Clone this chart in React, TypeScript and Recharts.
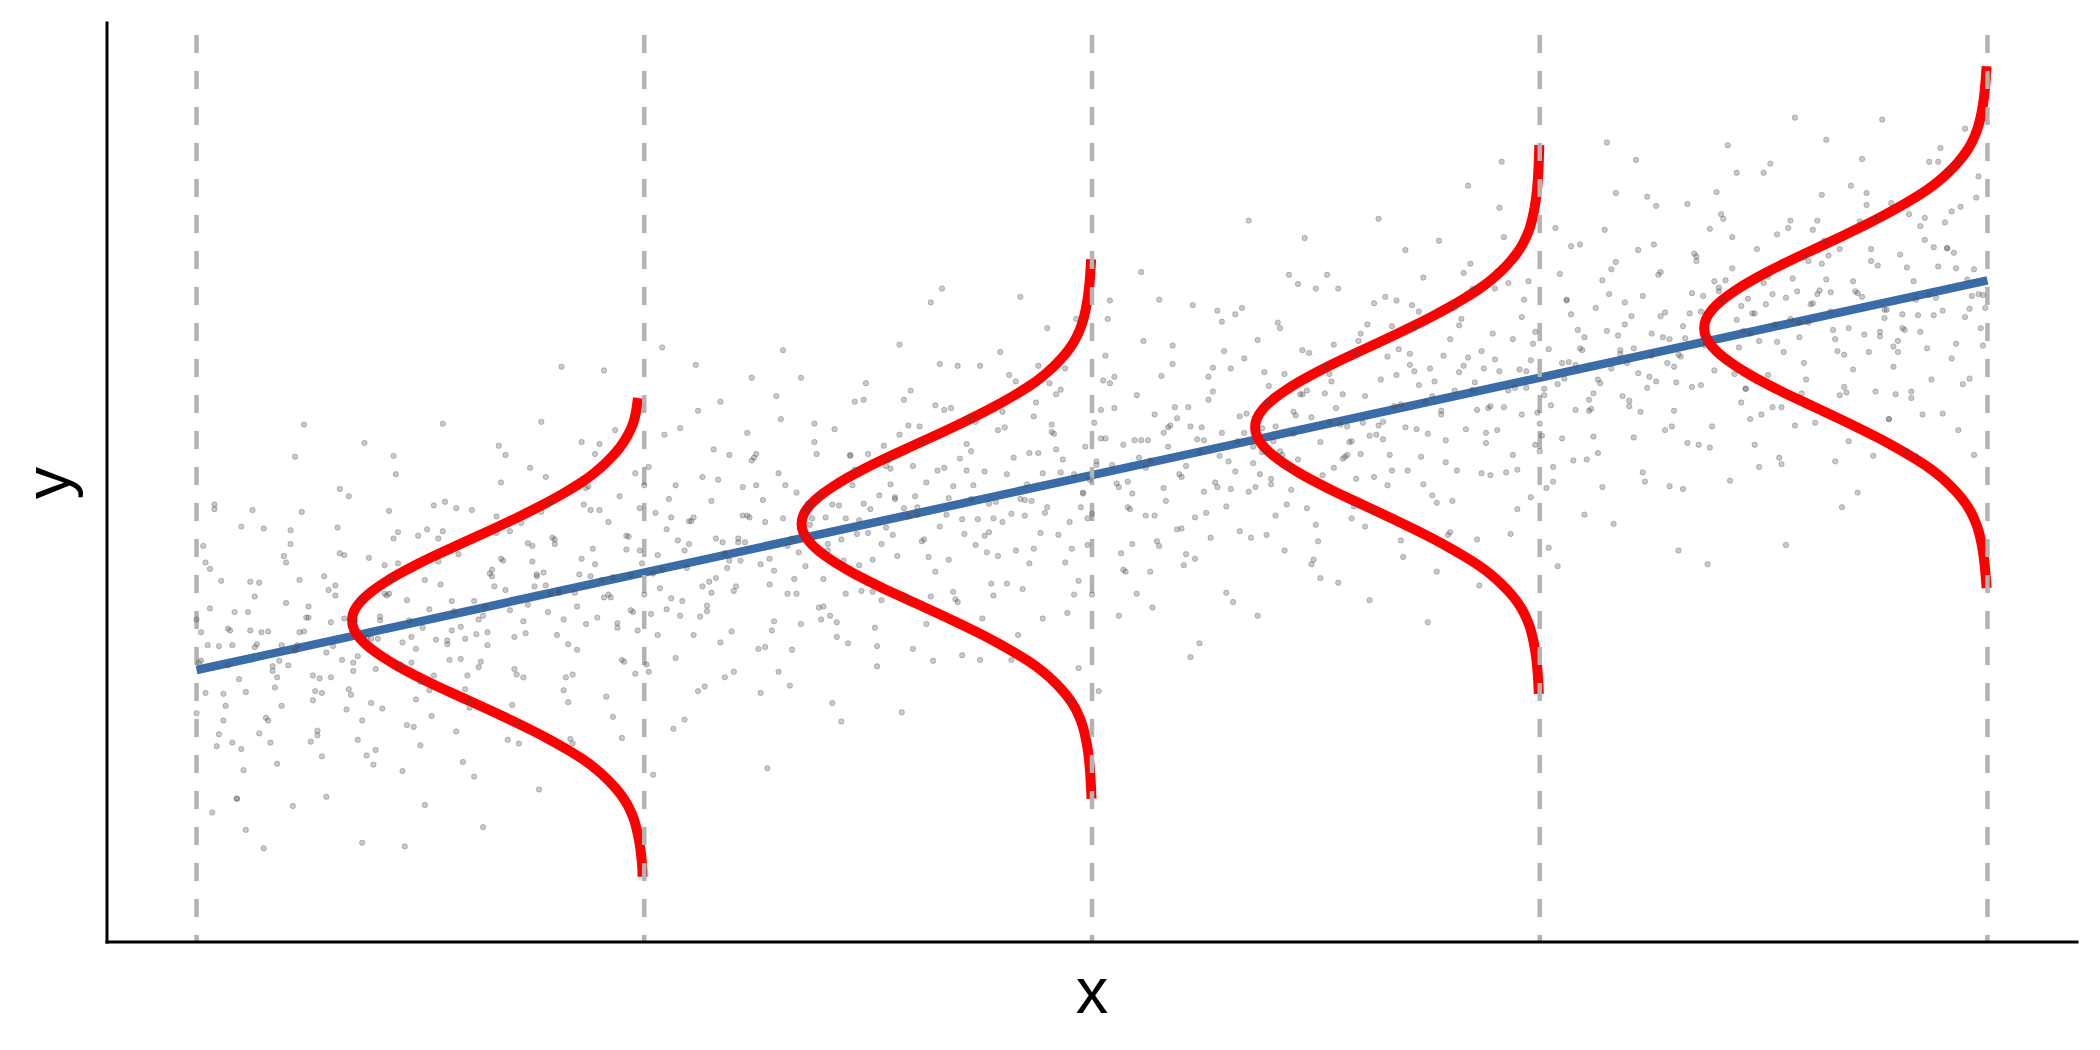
import React from 'react';
import { ComposedChart, Scatter, Line, XAxis, YAxis } from 'recharts';

// axis ranges (no ticks are drawn, the dashed guides sit at x = 0..4)
const xDomain: [number, number] = [-0.2, 4.2];
const yDomain: [number, number] = [0, 10];

const guideXs = [0, 1, 2, 3, 4];
const guideTop = 9.87;

// fitted line, read at both ends
const fitLine = [
  { x: 0, y: 2.96 },
  { x: 4, y: 7.2 },
];

// the point cloud in three sweeps of 0.1-wide bands
const cloudA: [number, number][] = [
  [0.01, 3.06], [0.06, 2.7], [0.03, 3.63], [0.08, 2.17], [0.02, 4.13], [0.09, 1.56], [0.05, 3.22], [0.0, 2.49], [0.07, 3.41], [0.04, 4.71],
  [0.17, 3.0], [0.12, 3.39], [0.19, 2.57], [0.14, 3.91], [0.1, 2.1], [0.15, 4.5], [0.18, 2.88], [0.13, 3.21], [0.16, 2.41], [0.11, 1.22],
  [0.24, 3.38], [0.29, 3.15], [0.2, 3.69], [0.26, 2.63], [0.23, 3.94], [0.27, 2.3], [0.21, 4.48], [0.28, 2.02], [0.25, 3.53], [0.22, 5.28],
  [0.38, 3.31], [0.33, 3.52], [0.35, 3.04], [0.31, 3.88], [0.39, 2.6], [0.32, 4.23], [0.36, 2.2], [0.34, 4.85], [0.3, 2.88], [0.37, 1.08],
  [0.41, 3.54], [0.46, 3.26], [0.43, 3.79], [0.48, 3.04], [0.42, 4.1], [0.49, 2.64], [0.45, 4.46], [0.4, 2.09], [0.47, 3.72], [0.44, 5.29],
  [0.57, 3.39], [0.52, 3.62], [0.59, 3.08], [0.54, 4.14], [0.5, 2.83], [0.55, 4.47], [0.58, 2.29], [0.53, 4.75], [0.56, 3.24], [0.51, 1.49],
  [0.64, 3.55], [0.69, 3.83], [0.6, 3.3], [0.66, 4.05], [0.63, 2.99], [0.67, 4.45], [0.61, 2.63], [0.68, 5.0], [0.65, 3.37], [0.62, 1.8],
  [0.78, 3.88], [0.73, 3.49], [0.75, 4.31], [0.71, 2.97], [0.79, 4.78], [0.72, 2.38], [0.76, 4.0], [0.74, 3.67], [0.7, 4.47], [0.77, 5.66],
  [0.81, 3.81], [0.86, 4.17], [0.83, 3.24], [0.88, 4.7], [0.82, 2.74], [0.89, 5.31], [0.85, 3.65], [0.8, 4.38], [0.87, 3.46], [0.84, 2.16],
  [0.97, 3.99], [0.92, 3.78], [0.99, 4.26], [0.94, 3.42], [0.9, 4.7], [0.95, 3.07], [0.98, 5.1], [0.93, 2.45], [0.96, 4.42], [0.91, 6.22],
  [1.04, 4.05], [1.09, 4.26], [1.0, 3.78], [1.06, 4.62], [1.03, 3.34], [1.07, 4.97], [1.01, 2.94], [1.08, 5.59], [1.05, 3.62], [1.02, 1.82],
  [1.18, 4.23], [1.13, 3.87], [1.15, 4.8], [1.11, 3.34], [1.19, 5.3], [1.12, 2.73], [1.16, 4.39], [1.14, 3.66], [1.1, 4.58], [1.17, 5.88],
  [1.21, 4.39], [1.26, 4.11], [1.23, 4.64], [1.28, 3.89], [1.22, 4.95], [1.29, 3.49], [1.25, 5.31], [1.2, 2.94], [1.27, 4.57], [1.24, 6.14],
  [1.37, 4.54], [1.32, 4.31], [1.39, 4.85], [1.34, 3.79], [1.3, 5.1], [1.35, 3.46], [1.38, 5.64], [1.33, 3.18], [1.36, 4.69], [1.31, 6.44],
  [1.44, 4.38], [1.49, 4.77], [1.4, 3.95], [1.46, 5.29], [1.43, 3.48], [1.47, 5.88], [1.41, 4.26], [1.48, 4.59], [1.45, 3.79], [1.42, 2.6],
  [1.58, 4.72], [1.53, 4.33], [1.55, 5.15], [1.51, 3.81], [1.59, 5.62], [1.52, 3.22], [1.56, 4.84], [1.54, 4.51], [1.5, 5.31], [1.57, 6.5],
  [1.61, 4.73], [1.66, 4.52], [1.63, 5.0], [1.68, 4.16], [1.62, 5.44], [1.69, 3.81], [1.65, 5.84], [1.6, 3.19], [1.67, 5.16], [1.64, 6.96],
  [1.77, 4.77], [1.72, 5.13], [1.79, 4.2], [1.74, 5.66], [1.7, 3.7], [1.75, 6.27], [1.78, 4.61], [1.73, 5.34], [1.76, 4.42], [1.71, 3.12],
  [1.84, 4.82], [1.89, 5.1], [1.8, 4.57], [1.86, 5.32], [1.83, 4.26], [1.87, 5.72], [1.81, 3.9], [1.88, 6.27], [1.85, 4.64], [1.82, 3.07],
  [1.98, 4.88], [1.93, 5.11], [1.95, 4.57], [1.91, 5.63], [1.99, 4.32], [1.92, 5.96], [1.96, 3.78], [1.94, 6.24], [1.9, 4.73], [1.97, 2.98],
  [2.01, 5.23], [2.06, 4.95], [2.03, 5.48], [2.08, 4.73], [2.02, 5.79], [2.09, 4.33], [2.05, 6.15], [2.0, 3.78], [2.07, 5.41], [2.04, 6.98],
  [2.17, 5.39], [2.12, 5.16], [2.19, 5.7], [2.14, 4.64], [2.1, 5.95], [2.15, 4.31], [2.18, 6.49], [2.13, 4.03], [2.16, 5.54], [2.11, 7.29],
  [2.24, 5.33], [2.29, 5.54], [2.2, 5.06], [2.26, 5.9], [2.23, 4.62], [2.27, 6.25], [2.21, 4.22], [2.28, 6.87], [2.25, 4.9], [2.22, 3.1],
  [2.38, 5.33], [2.33, 5.72], [2.35, 4.9], [2.31, 6.24], [2.39, 4.43], [2.32, 6.83], [2.36, 5.21], [2.34, 5.54], [2.3, 4.74], [2.37, 3.55],
  [2.41, 5.61], [2.46, 5.25], [2.43, 6.18], [2.48, 4.72], [2.42, 6.68], [2.49, 4.11], [2.45, 5.77], [2.4, 5.04], [2.47, 5.96], [2.44, 7.26],
  [2.57, 5.61], [2.52, 5.97], [2.59, 5.04], [2.54, 6.5], [2.5, 4.54], [2.55, 7.11], [2.58, 5.45], [2.53, 6.18], [2.56, 5.26], [2.51, 3.96],
  [2.64, 5.62], [2.69, 5.85], [2.6, 5.31], [2.66, 6.37], [2.63, 5.06], [2.67, 6.7], [2.61, 4.52], [2.68, 6.98], [2.65, 5.47], [2.62, 3.72],
  [2.78, 5.78], [2.73, 6.06], [2.75, 5.53], [2.71, 6.28], [2.79, 5.22], [2.72, 6.68], [2.76, 4.86], [2.74, 7.23], [2.7, 5.6], [2.77, 4.03],
  [2.81, 6.0], [2.86, 5.79], [2.83, 6.27], [2.88, 5.43], [2.82, 6.71], [2.89, 5.08], [2.85, 7.11], [2.8, 4.46], [2.87, 6.43], [2.84, 8.23],
  [2.97, 6.21], [2.92, 5.82], [2.99, 6.64], [2.94, 5.3], [2.9, 7.11], [2.95, 4.71], [2.98, 6.33], [2.93, 6.0], [2.96, 6.8], [2.91, 7.99],
  [3.04, 6.07], [3.09, 6.46], [3.0, 5.64], [3.06, 6.98], [3.03, 5.17], [3.07, 7.57], [3.01, 5.95], [3.08, 6.28], [3.05, 5.48], [3.02, 4.29],
  [3.18, 6.4], [3.13, 6.12], [3.15, 6.65], [3.11, 5.9], [3.19, 6.96], [3.12, 5.5], [3.16, 7.32], [3.14, 4.95], [3.1, 6.58], [3.17, 8.15],
  [3.21, 6.46], [3.26, 6.1], [3.23, 7.03], [3.28, 5.57], [3.22, 7.53], [3.29, 4.96], [3.25, 6.62], [3.2, 5.89], [3.27, 6.81], [3.24, 8.11],
  [3.37, 6.49], [3.32, 6.7], [3.39, 6.22], [3.34, 7.06], [3.3, 5.78], [3.35, 7.41], [3.38, 5.38], [3.33, 8.03], [3.36, 6.06], [3.31, 4.26],
  [3.44, 6.77], [3.49, 6.54], [3.4, 7.08], [3.46, 6.02], [3.43, 7.33], [3.47, 5.69], [3.41, 7.87], [3.48, 5.41], [3.45, 6.92], [3.42, 8.67],
  [3.58, 6.74], [3.53, 6.53], [3.55, 7.01], [3.51, 6.17], [3.59, 7.45], [3.52, 5.82], [3.56, 7.85], [3.54, 5.2], [3.5, 7.17], [3.57, 8.97],
  [3.61, 6.95], [3.66, 6.56], [3.63, 7.38], [3.68, 6.04], [3.62, 7.85], [3.69, 5.45], [3.65, 7.07], [3.6, 6.74], [3.67, 7.54], [3.64, 8.73],
  [3.77, 6.79], [3.72, 7.02], [3.79, 6.48], [3.74, 7.54], [3.7, 6.23], [3.75, 7.87], [3.78, 5.69], [3.73, 8.15], [3.76, 6.64], [3.71, 4.89],
  [3.84, 6.99], [3.89, 7.35], [3.8, 6.42], [3.86, 7.88], [3.83, 5.92], [3.87, 8.49], [3.81, 6.83], [3.88, 7.56], [3.85, 6.64], [3.82, 5.34],
  [3.98, 7.05], [3.93, 7.33], [3.95, 6.8], [3.91, 7.55], [3.99, 6.49], [3.92, 7.95], [3.96, 6.13], [3.94, 8.5], [3.9, 6.87], [3.97, 5.3],
];

const cloudB: [number, number][] = [
  [0.025, 3.23], [0.065, 2.57], [0.005, 3.04], [0.085, 3.59], [0.045, 2.13], [0.015, 4.31], [0.095, 2.86], [0.055, 3.93], [0.035, 1.41], [0.075, 3.39],
  [0.175, 2.77], [0.135, 3.24], [0.155, 2.44], [0.115, 3.59], [0.195, 4.2], [0.105, 1.87], [0.145, 3.37], [0.185, 3.06], [0.125, 4.7], [0.165, 2.17],
  [0.245, 3.53], [0.205, 3.01], [0.285, 3.98], [0.265, 2.73], [0.225, 3.23], [0.255, 2.18], [0.235, 4.68], [0.275, 2.87], [0.295, 3.83], [0.215, 1.48],
  [0.325, 3.07], [0.365, 3.73], [0.305, 3.22], [0.385, 4.18], [0.345, 2.69], [0.315, 4.51], [0.395, 1.93], [0.355, 3.5], [0.335, 2.53], [0.375, 5.43],
  [0.475, 3.5], [0.435, 3.96], [0.455, 3.02], [0.415, 2.54], [0.495, 4.42], [0.405, 3.3], [0.445, 5.09], [0.485, 2.34], [0.425, 3.77], [0.465, 1.04],
  [0.545, 3.89], [0.505, 3.42], [0.585, 4.22], [0.565, 3.07], [0.525, 2.46], [0.555, 4.79], [0.535, 3.29], [0.575, 3.6], [0.595, 1.96], [0.515, 4.49],
  [0.625, 3.35], [0.665, 3.87], [0.605, 2.9], [0.685, 4.15], [0.645, 3.65], [0.615, 4.7], [0.695, 2.2], [0.655, 4.01], [0.635, 3.05], [0.675, 5.4],
  [0.775, 4.02], [0.735, 3.36], [0.755, 3.87], [0.715, 2.91], [0.795, 4.4], [0.705, 2.58], [0.745, 5.16], [0.785, 3.59], [0.725, 4.56], [0.765, 1.66],
  [0.845, 3.8], [0.805, 3.34], [0.885, 4.28], [0.865, 4.76], [0.825, 2.88], [0.855, 4.0], [0.835, 2.21], [0.875, 4.96], [0.895, 3.53], [0.815, 6.26],
  [0.925, 3.75], [0.965, 4.41], [0.905, 3.94], [0.985, 3.39], [0.945, 4.85], [0.915, 2.67], [0.995, 4.12], [0.955, 3.05], [0.935, 5.57], [0.975, 3.59],
  [1.075, 4.37], [1.035, 3.85], [1.055, 4.82], [1.015, 3.57], [1.095, 4.07], [1.005, 3.02], [1.045, 5.52], [1.085, 3.71], [1.025, 4.67], [1.065, 2.32],
  [1.145, 3.92], [1.105, 4.58], [1.185, 4.07], [1.165, 5.03], [1.125, 3.54], [1.155, 5.36], [1.135, 2.78], [1.175, 4.35], [1.195, 3.38], [1.115, 6.28],
  [1.225, 4.35], [1.265, 4.81], [1.205, 3.87], [1.285, 3.39], [1.245, 5.27], [1.215, 4.15], [1.295, 5.94], [1.255, 3.19], [1.235, 4.62], [1.275, 1.89],
  [1.375, 4.61], [1.335, 3.95], [1.355, 4.42], [1.315, 4.97], [1.395, 3.51], [1.305, 5.69], [1.345, 4.24], [1.385, 5.31], [1.325, 2.79], [1.365, 4.77],
  [1.445, 4.15], [1.405, 4.62], [1.485, 3.82], [1.465, 4.97], [1.425, 5.58], [1.455, 3.25], [1.435, 4.75], [1.475, 4.44], [1.495, 6.08], [1.415, 3.55],
  [1.525, 4.86], [1.565, 4.2], [1.505, 4.71], [1.585, 3.75], [1.545, 5.24], [1.515, 3.42], [1.595, 6.0], [1.555, 4.43], [1.535, 5.4], [1.575, 2.5],
  [1.675, 4.65], [1.635, 4.19], [1.655, 5.13], [1.615, 5.61], [1.695, 3.73], [1.605, 4.85], [1.645, 3.06], [1.685, 5.81], [1.625, 4.38], [1.665, 7.11],
  [1.745, 4.6], [1.705, 5.26], [1.785, 4.79], [1.765, 4.24], [1.725, 5.7], [1.755, 3.52], [1.735, 4.97], [1.775, 3.9], [1.795, 6.42], [1.715, 4.44],
  [1.825, 5.27], [1.865, 4.8], [1.805, 5.6], [1.885, 4.45], [1.845, 3.84], [1.815, 6.17], [1.895, 4.67], [1.855, 4.98], [1.835, 3.34], [1.875, 5.87],
  [1.975, 4.73], [1.935, 5.25], [1.955, 4.28], [1.915, 5.53], [1.995, 5.03], [1.905, 6.08], [1.945, 3.58], [1.985, 5.39], [1.925, 4.43], [1.965, 6.78],
  [2.045, 5.19], [2.005, 5.65], [2.085, 4.71], [2.065, 4.23], [2.025, 6.11], [2.055, 4.99], [2.035, 6.78], [2.075, 4.03], [2.095, 5.46], [2.015, 2.73],
  [2.125, 5.46], [2.165, 4.8], [2.105, 5.27], [2.185, 5.82], [2.145, 4.36], [2.115, 6.54], [2.195, 5.09], [2.155, 6.16], [2.135, 3.64], [2.175, 5.62],
  [2.275, 5.0], [2.235, 5.47], [2.255, 4.67], [2.215, 5.82], [2.295, 6.43], [2.205, 4.1], [2.245, 5.6], [2.285, 5.29], [2.225, 6.93], [2.265, 4.4],
  [2.345, 5.75], [2.305, 5.23], [2.385, 6.2], [2.365, 4.95], [2.325, 5.45], [2.355, 4.4], [2.335, 6.9], [2.375, 5.09], [2.395, 6.05], [2.315, 3.7],
  [2.425, 5.3], [2.465, 5.96], [2.405, 5.45], [2.485, 6.41], [2.445, 4.92], [2.415, 6.74], [2.495, 4.16], [2.455, 5.73], [2.435, 4.76], [2.475, 7.66],
  [2.575, 5.44], [2.535, 6.1], [2.555, 5.63], [2.515, 5.08], [2.595, 6.54], [2.505, 4.36], [2.545, 5.81], [2.585, 4.74], [2.525, 7.26], [2.565, 5.28],
  [2.645, 6.12], [2.605, 5.65], [2.685, 6.45], [2.665, 5.3], [2.625, 4.69], [2.655, 7.02], [2.635, 5.52], [2.675, 5.83], [2.695, 4.19], [2.615, 6.72],
  [2.725, 5.58], [2.765, 6.1], [2.705, 5.13], [2.785, 6.38], [2.745, 5.88], [2.715, 6.93], [2.795, 4.43], [2.755, 6.24], [2.735, 5.28], [2.775, 7.63],
  [2.875, 6.24], [2.835, 5.58], [2.855, 6.09], [2.815, 5.13], [2.895, 6.62], [2.805, 4.8], [2.845, 7.38], [2.885, 5.81], [2.825, 6.78], [2.865, 3.88],
  [2.945, 6.03], [2.905, 5.57], [2.985, 6.51], [2.965, 6.99], [2.925, 5.11], [2.955, 6.23], [2.935, 4.44], [2.975, 7.19], [2.995, 5.76], [2.915, 8.49],
  [3.025, 5.84], [3.065, 6.31], [3.005, 5.51], [3.085, 6.66], [3.045, 7.27], [3.015, 4.94], [3.095, 6.44], [3.055, 6.13], [3.035, 7.77], [3.075, 5.24],
  [3.175, 6.6], [3.135, 6.08], [3.155, 7.05], [3.115, 5.8], [3.195, 6.3], [3.105, 5.25], [3.145, 7.75], [3.185, 5.94], [3.125, 6.9], [3.165, 4.55],
  [3.245, 6.15], [3.205, 6.81], [3.285, 6.3], [3.265, 7.26], [3.225, 5.77], [3.255, 7.59], [3.235, 5.01], [3.275, 6.58], [3.295, 5.61], [3.215, 8.51],
  [3.325, 6.57], [3.365, 7.03], [3.305, 6.09], [3.385, 5.61], [3.345, 7.49], [3.315, 6.37], [3.395, 8.16], [3.355, 5.41], [3.335, 6.84], [3.375, 4.11],
  [3.475, 6.84], [3.435, 6.18], [3.455, 6.65], [3.415, 7.2], [3.495, 5.74], [3.405, 7.92], [3.445, 6.47], [3.485, 7.54], [3.425, 5.02], [3.465, 7.0],
  [3.545, 6.42], [3.505, 6.94], [3.585, 5.97], [3.565, 7.22], [3.525, 6.72], [3.555, 7.77], [3.535, 5.27], [3.575, 7.08], [3.595, 6.12], [3.515, 8.47],
  [3.625, 7.09], [3.665, 6.43], [3.605, 6.94], [3.685, 5.98], [3.645, 7.47], [3.615, 5.65], [3.695, 8.23], [3.655, 6.66], [3.635, 7.63], [3.675, 4.73],
  [3.775, 6.88], [3.735, 6.42], [3.755, 7.36], [3.715, 7.84], [3.795, 5.96], [3.705, 7.08], [3.745, 5.29], [3.785, 8.04], [3.725, 6.61], [3.765, 8.95],
  [3.845, 6.82], [3.805, 7.48], [3.885, 7.01], [3.865, 6.46], [3.825, 7.92], [3.855, 5.74], [3.835, 7.19], [3.875, 6.12], [3.895, 8.64], [3.815, 6.66],
  [3.925, 7.5], [3.965, 7.03], [3.905, 7.83], [3.985, 6.68], [3.945, 6.07], [3.915, 8.4], [3.995, 6.9], [3.955, 7.21], [3.935, 5.57], [3.975, 8.1],
];

const cloudC: [number, number][] = [
  [0.02, 2.71], [0.08, 3.23], [0.05, 2.26], [0.0, 3.51], [0.07, 3.01], [0.03, 4.06], [0.09, 1.56], [0.01, 3.37], [0.06, 2.41], [0.04, 4.76],
  [0.16, 3.38], [0.11, 2.72], [0.19, 3.23], [0.14, 2.27], [0.13, 3.76], [0.18, 1.94], [0.1, 4.52], [0.17, 2.95], [0.12, 3.92], [0.15, 1.02],
  [0.22, 3.17], [0.28, 2.71], [0.25, 3.65], [0.2, 4.13], [0.27, 2.25], [0.23, 3.37], [0.29, 1.58], [0.21, 4.33], [0.26, 2.9], [0.24, 5.63],
  [0.36, 3.11], [0.31, 3.77], [0.39, 3.3], [0.34, 2.75], [0.33, 4.21], [0.38, 2.03], [0.3, 3.48], [0.37, 2.41], [0.32, 4.93], [0.35, 2.95],
  [0.42, 3.79], [0.48, 3.32], [0.45, 4.12], [0.4, 2.97], [0.47, 2.36], [0.43, 4.69], [0.49, 3.19], [0.41, 3.5], [0.46, 1.86], [0.44, 4.39],
  [0.56, 3.28], [0.51, 3.94], [0.59, 3.43], [0.54, 4.39], [0.53, 2.9], [0.58, 4.72], [0.5, 2.14], [0.57, 3.71], [0.52, 2.74], [0.55, 5.64],
  [0.62, 3.71], [0.68, 4.17], [0.65, 3.23], [0.6, 2.75], [0.67, 4.63], [0.63, 3.51], [0.69, 5.3], [0.61, 2.55], [0.66, 3.98], [0.64, 1.25],
  [0.76, 3.98], [0.71, 3.32], [0.79, 3.79], [0.74, 4.34], [0.73, 2.88], [0.78, 5.06], [0.7, 3.61], [0.77, 4.68], [0.72, 2.16], [0.75, 4.14],
  [0.82, 3.51], [0.88, 3.98], [0.85, 3.18], [0.8, 4.33], [0.87, 4.94], [0.83, 2.61], [0.89, 4.11], [0.81, 3.8], [0.86, 5.44], [0.84, 2.91],
  [0.96, 4.27], [0.91, 3.75], [0.99, 4.72], [0.94, 3.47], [0.93, 3.97], [0.98, 2.92], [0.9, 5.42], [0.97, 3.61], [0.92, 4.57], [0.95, 2.22],
  [1.02, 4.01], [1.08, 3.55], [1.05, 4.49], [1.0, 4.97], [1.07, 3.09], [1.03, 4.21], [1.09, 2.42], [1.01, 5.17], [1.06, 3.74], [1.04, 6.47],
  [1.16, 3.96], [1.11, 4.62], [1.19, 4.15], [1.14, 3.6], [1.13, 5.06], [1.18, 2.88], [1.1, 4.33], [1.17, 3.26], [1.12, 5.78], [1.15, 3.8],
  [1.22, 4.64], [1.28, 4.17], [1.25, 4.97], [1.2, 3.82], [1.27, 3.21], [1.23, 5.54], [1.29, 4.04], [1.21, 4.35], [1.26, 2.71], [1.24, 5.24],
  [1.36, 4.09], [1.31, 4.61], [1.39, 3.64], [1.34, 4.89], [1.33, 4.39], [1.38, 5.44], [1.3, 2.94], [1.37, 4.75], [1.32, 3.79], [1.35, 6.14],
  [1.42, 4.76], [1.48, 4.1], [1.45, 4.61], [1.4, 3.65], [1.47, 5.14], [1.43, 3.32], [1.49, 5.9], [1.41, 4.33], [1.46, 5.3], [1.44, 2.4],
  [1.56, 4.82], [1.51, 4.16], [1.59, 4.63], [1.54, 5.18], [1.53, 3.72], [1.58, 5.9], [1.5, 4.45], [1.57, 5.52], [1.52, 3.0], [1.55, 4.98],
  [1.62, 4.36], [1.68, 4.83], [1.65, 4.03], [1.6, 5.18], [1.67, 5.79], [1.63, 3.46], [1.69, 4.96], [1.61, 4.65], [1.66, 6.29], [1.64, 3.76],
  [1.76, 5.12], [1.71, 4.6], [1.79, 5.57], [1.74, 4.32], [1.73, 4.82], [1.78, 3.77], [1.7, 6.27], [1.77, 4.46], [1.72, 5.42], [1.75, 3.07],
  [1.82, 4.66], [1.88, 5.32], [1.85, 4.81], [1.8, 5.77], [1.87, 4.28], [1.83, 6.1], [1.89, 3.52], [1.81, 5.09], [1.86, 4.12], [1.84, 7.02],
  [1.96, 5.09], [1.91, 5.55], [1.99, 4.61], [1.94, 4.13], [1.93, 6.01], [1.98, 4.89], [1.9, 6.68], [1.97, 3.93], [1.92, 5.36], [1.95, 2.63],
  [2.02, 5.48], [2.08, 5.01], [2.05, 5.81], [2.0, 4.66], [2.07, 4.05], [2.03, 6.38], [2.09, 4.88], [2.01, 5.19], [2.06, 3.55], [2.04, 6.08],
  [2.16, 4.94], [2.11, 5.46], [2.19, 4.49], [2.14, 5.74], [2.13, 5.24], [2.18, 6.29], [2.1, 3.79], [2.17, 5.6], [2.12, 4.64], [2.15, 6.99],
  [2.22, 5.61], [2.28, 4.95], [2.25, 5.46], [2.2, 4.5], [2.27, 5.99], [2.23, 4.17], [2.29, 6.75], [2.21, 5.18], [2.26, 6.15], [2.24, 3.25],
  [2.36, 5.39], [2.31, 4.93], [2.39, 5.87], [2.34, 6.35], [2.33, 4.47], [2.38, 5.59], [2.3, 3.8], [2.37, 6.55], [2.32, 5.12], [2.35, 7.85],
  [2.42, 5.34], [2.48, 6.0], [2.45, 5.53], [2.4, 4.98], [2.47, 6.44], [2.43, 4.26], [2.49, 5.71], [2.41, 4.64], [2.46, 7.16], [2.44, 5.18],
  [2.56, 5.96], [2.51, 5.44], [2.59, 6.41], [2.54, 5.16], [2.53, 5.66], [2.58, 4.61], [2.5, 7.11], [2.57, 5.3], [2.52, 6.26], [2.55, 3.91],
  [2.62, 5.51], [2.68, 6.17], [2.65, 5.66], [2.6, 6.62], [2.67, 5.13], [2.63, 6.95], [2.69, 4.37], [2.61, 5.94], [2.66, 4.97], [2.64, 7.87],
  [2.76, 5.94], [2.71, 6.4], [2.79, 5.46], [2.74, 4.98], [2.73, 6.86], [2.78, 5.74], [2.7, 7.53], [2.77, 4.78], [2.72, 6.21], [2.75, 3.48],
  [2.82, 6.2], [2.88, 5.54], [2.85, 6.01], [2.8, 6.56], [2.87, 5.1], [2.83, 7.28], [2.89, 5.83], [2.81, 6.9], [2.86, 4.38], [2.84, 6.36],
  [2.96, 5.74], [2.91, 6.21], [2.99, 5.41], [2.94, 6.56], [2.93, 7.17], [2.98, 4.84], [2.9, 6.34], [2.97, 6.03], [2.92, 7.67], [2.95, 5.14],
  [3.02, 6.45], [3.08, 5.79], [3.05, 6.3], [3.0, 5.34], [3.07, 6.83], [3.03, 5.01], [3.09, 7.59], [3.01, 6.02], [3.06, 6.99], [3.04, 4.09],
  [3.16, 6.24], [3.11, 5.78], [3.19, 6.72], [3.14, 7.2], [3.13, 5.32], [3.18, 6.44], [3.1, 4.65], [3.17, 7.4], [3.12, 5.97], [3.15, 8.7],
  [3.22, 6.19], [3.28, 6.85], [3.25, 6.38], [3.2, 5.83], [3.27, 7.29], [3.23, 5.11], [3.29, 6.56], [3.21, 5.49], [3.26, 8.01], [3.24, 6.03],
  [3.36, 6.86], [3.31, 6.39], [3.39, 7.19], [3.34, 6.04], [3.33, 5.43], [3.38, 7.76], [3.3, 6.26], [3.37, 6.57], [3.32, 4.93], [3.35, 7.46],
  [3.42, 6.32], [3.48, 6.84], [3.45, 5.87], [3.4, 7.12], [3.47, 6.62], [3.43, 7.67], [3.49, 5.17], [3.41, 6.98], [3.46, 6.02], [3.44, 8.37],
  [3.56, 6.78], [3.51, 7.24], [3.59, 6.3], [3.54, 5.82], [3.53, 7.7], [3.58, 6.58], [3.5, 8.37], [3.57, 5.62], [3.52, 7.05], [3.55, 4.32],
  [3.62, 7.05], [3.68, 6.39], [3.65, 6.86], [3.6, 7.41], [3.67, 5.95], [3.63, 8.13], [3.69, 6.68], [3.61, 7.75], [3.66, 5.23], [3.64, 7.21],
  [3.76, 6.59], [3.71, 7.06], [3.79, 6.26], [3.74, 7.41], [3.73, 8.02], [3.78, 5.69], [3.7, 7.19], [3.77, 6.88], [3.72, 8.52], [3.75, 5.99],
  [3.82, 7.34], [3.88, 6.82], [3.85, 7.79], [3.8, 6.54], [3.87, 7.04], [3.83, 5.99], [3.89, 8.49], [3.81, 6.68], [3.86, 7.64], [3.84, 5.29],
  [3.96, 6.89], [3.91, 7.55], [3.99, 7.04], [3.94, 8.0], [3.93, 6.51], [3.98, 8.33], [3.9, 5.75], [3.97, 7.32], [3.92, 6.35], [3.95, 8.85],
];

// bell shape: [height above the peak, share of the peak width]
const bellProfile: [number, number][] = [
  [3.1, 0.0015], [2.9, 0.003], [2.7, 0.006], [2.5, 0.012], [2.35, 0.02], [2.2, 0.031], [2.1, 0.043],
  [2.0, 0.058], [1.9, 0.078], [1.8, 0.104], [1.7, 0.135], [1.6, 0.171], [1.5, 0.214], [1.4, 0.266],
  [1.3, 0.321], [1.2, 0.381], [1.1, 0.445], [1.0, 0.512], [0.9, 0.581], [0.8, 0.65], [0.7, 0.719],
  [0.6, 0.783], [0.5, 0.842], [0.4, 0.894], [0.3, 0.939], [0.2, 0.972], [0.1, 0.994], [0, 1],
  [-0.1, 0.994], [-0.2, 0.972], [-0.3, 0.939], [-0.4, 0.894], [-0.5, 0.842], [-0.6, 0.783], [-0.7, 0.719],
  [-0.8, 0.65], [-0.9, 0.581], [-1.0, 0.512], [-1.1, 0.445], [-1.2, 0.381], [-1.3, 0.321], [-1.4, 0.266],
  [-1.5, 0.214], [-1.6, 0.171], [-1.7, 0.135], [-1.8, 0.104], [-1.9, 0.078], [-2.0, 0.058], [-2.1, 0.043],
  [-2.2, 0.031], [-2.35, 0.02], [-2.5, 0.012], [-2.7, 0.006], [-2.9, 0.003], [-3.1, 0.0015],
];

// where each red curve sits: guide x, peak y, peak width, and its cut ends [height, distance left]
const bellGuides = [1, 2, 3, 4];
const bellPeaks = [3.5, 4.55, 5.6, 6.68];
const bellWidths = [0.654, 0.65, 0.637, 0.634];
const bellTops: [number, number][] = [[2.42, 0.014], [2.88, 0.002], [3.07, 0.001], [2.85, 0.002]];
const bellBottoms: [number, number][] = [[-2.79, 0.004], [-2.99, 0.001], [-2.9, 0.002], [-2.83, 0.002]];

const cloudData = [...cloudA, ...cloudB, ...cloudC].map(([x, y]) => ({ x, y }));

const bellData = bellGuides.map((gx, i) => {
  const top = bellTops[i];
  const bottom = bellBottoms[i];
  const inner = bellProfile
    .filter(([dy]) => dy < top[0] - 0.08 && dy > bottom[0] + 0.08)
    .map(([dy, share]) => ({ x: gx - share * bellWidths[i], y: bellPeaks[i] + dy }));
  return [
    { x: gx - top[1], y: bellPeaks[i] + top[0] },
    ...inner,
    { x: gx - bottom[1], y: bellPeaks[i] + bottom[0] },
  ];
});

const guideData = guideXs.map((gx) => [
  { x: gx, y: guideTop },
  { x: gx, y: yDomain[0] },
]);

const CloudDot = (props: any) => (
  <circle
    cx={props.cx}
    cy={props.cy}
    r={2.7}
    fill="#4d4d4d"
    fillOpacity={0.3}
    stroke="#4d4d4d"
    strokeOpacity={0.3}
    strokeWidth={1}
  />
);

const font = '"Liberation Sans", Arial, sans-serif';

export default function App() {
  return (
    <div style={{ position: 'absolute', left: 0, top: 0, width: 2100, height: 1050, background: '#fff' }}>
      <ComposedChart width={2100} height={1050} margin={{ top: 23, right: 23, bottom: 0, left: 0 }}>
        <XAxis
          type="number"
          dataKey="x"
          domain={xDomain}
          allowDataOverflow
          tick={false}
          tickLine={false}
          height={108}
          axisLine={{ stroke: '#000', strokeWidth: 3, strokeLinecap: 'square' }}
        />
        <YAxis
          type="number"
          dataKey="y"
          domain={yDomain}
          allowDataOverflow
          tick={false}
          tickLine={false}
          width={107}
          axisLine={{ stroke: '#000', strokeWidth: 3, strokeLinecap: 'square' }}
        />
        <Scatter data={cloudData} shape={CloudDot} isAnimationActive={false} />
        <Line
          data={fitLine}
          dataKey="y"
          type="linear"
          stroke="#3a6ca8"
          strokeWidth={8.5}
          dot={false}
          activeDot={false}
          isAnimationActive={false}
        />
        {bellData.map((pts, i) => (
          <Line
            key={`bell-${i}`}
            data={pts}
            dataKey="y"
            type="basis"
            stroke="#ff0000"
            strokeWidth={10}
            dot={false}
            activeDot={false}
            isAnimationActive={false}
          />
        ))}
        {guideData.map((pts, i) => (
          <Line
            key={`guide-${i}`}
            data={pts}
            dataKey="y"
            type="linear"
            stroke="#b3b3b3"
            strokeWidth={4.5}
            strokeDasharray="18 18"
            dot={false}
            activeDot={false}
            isAnimationActive={false}
          />
        ))}
      </ComposedChart>
      <svg width={2100} height={1050} style={{ position: 'absolute', left: 0, top: 0, pointerEvents: 'none' }}>
        <text x={1092} y={1013} textAnchor="middle" fontSize={65} fontFamily={font} fill="#000">
          x
        </text>
        <text x={70} y={483} textAnchor="middle" fontSize={65} fontFamily={font} fill="#000" transform="rotate(-90 70 483)">
          y
        </text>
      </svg>
    </div>
  );
}
